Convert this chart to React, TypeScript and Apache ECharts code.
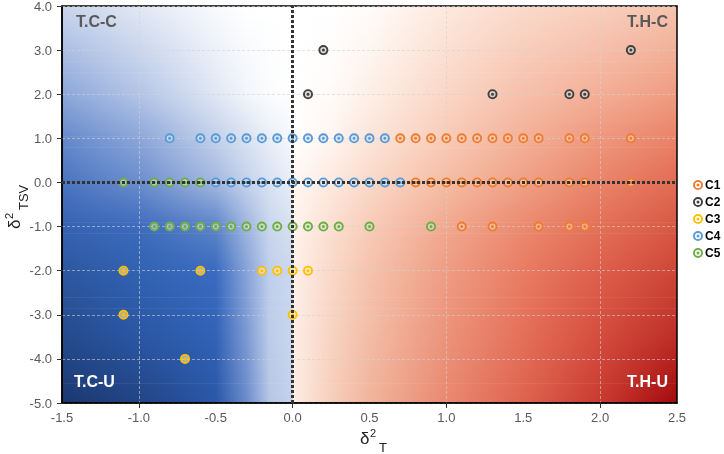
import React, { useEffect, useRef } from "react";
import * as echarts from "echarts";

// ---------- data ----------
const seriesNames = ["C1", "C2", "C3", "C4", "C5"];
const seriesColors = ["#ED7D31", "#404040", "#FFC000", "#5B9BD5", "#70AD47"];
const seriesTints = [
  "rgba(250,208,180,0.75)",
  "rgba(205,205,205,0.85)",
  "rgba(255,238,175,0.75)",
  "rgba(210,228,246,0.75)",
  "rgba(210,232,196,0.75)",
];

const c1Points: number[][] = [
  [0.7, 1], [0.8, 1], [0.9, 1], [1.0, 1], [1.1, 1], [1.2, 1], [1.3, 1], [1.4, 1], [1.5, 1], [1.6, 1], [1.8, 1], [1.9, 1], [2.2, 1],
  [0.8, 0], [0.9, 0], [1.0, 0], [1.1, 0], [1.2, 0], [1.3, 0], [1.4, 0], [1.5, 0], [1.6, 0], [1.8, 0], [1.9, 0], [2.2, 0],
  [1.1, -1], [1.3, -1], [1.6, -1], [1.8, -1], [1.9, -1],
];
const c2Points: number[][] = [
  [0.2, 3], [2.2, 3], [0.1, 2], [1.3, 2], [1.8, 2], [1.9, 2],
];
const c3Points: number[][] = [
  [-1.1, -2], [-0.6, -2], [-0.2, -2], [-0.1, -2], [0.0, -2], [0.1, -2],
  [-1.1, -3], [0.0, -3], [-0.7, -4],
];
const c4Points: number[][] = [
  [-0.8, 1], [-0.6, 1], [-0.5, 1], [-0.4, 1], [-0.3, 1], [-0.2, 1], [-0.1, 1], [0.0, 1], [0.1, 1], [0.2, 1], [0.3, 1], [0.4, 1], [0.5, 1], [0.6, 1],
  [-0.5, 0], [-0.4, 0], [-0.3, 0], [-0.2, 0], [-0.1, 0], [0.0, 0], [0.1, 0], [0.2, 0], [0.3, 0], [0.4, 0], [0.5, 0], [0.6, 0], [0.7, 0],
];
const c5Points: number[][] = [
  [-1.1, 0], [-0.9, 0], [-0.8, 0], [-0.7, 0], [-0.6, 0],
  [-0.9, -1], [-0.8, -1], [-0.7, -1], [-0.6, -1], [-0.5, -1], [-0.4, -1], [-0.3, -1], [-0.2, -1], [-0.1, -1], [0.0, -1], [0.1, -1], [0.2, -1], [0.3, -1], [0.5, -1], [0.9, -1],
];
const allPoints = [c1Points, c2Points, c3Points, c4Points, c5Points];

const xTickValues = [-1, 0, 1, 2];
const cornerLabels = ["T.C-C", "T.H-C", "T.C-U", "T.H-U"];

// background colour field (rows at y, stops at x)
const bgStopX = [-1.5, -1.0, -0.5, -0.3, -0.15, 0, 0, 0.25, 0.5, 1.0, 1.5, 2.0, 2.5];
const bgRowY = [4, 2, 1, 0, -1, -2, -3.5, -5];
const bgRowColors = [
  ["#c9d5ec", "#e2e8f4", "#f9fafd", "#ffffff", "#ffffff", "#ffffff", "#ffffff", "#ffffff", "#fffcfa", "#fde9df", "#fadacb", "#f8cfbe", "#f5c3ae"],
  ["#8ca7d9", "#b3c4e6", "#e0e7f4", "#f2f5fa", "#fbfcfe", "#ffffff", "#ffffff", "#fffbf9", "#fdefe7", "#fad6c6", "#f6c0ab", "#f3ae96", "#ef9b81"],
  ["#6589cb", "#8ba6d9", "#c2d0ea", "#d9e2f1", "#e9eef7", "#f6f8fc", "#ffffff", "#fef5f0", "#fce5da", "#f8cbb7", "#f3b098", "#ee977d", "#e98267"],
  ["#4a74c0", "#6a8dcd", "#a3b8e0", "#c3d1eb", "#d9e2f2", "#e9eef7", "#fff8f4", "#fde9df", "#fad9c9", "#f5bca4", "#efa086", "#e9836a", "#e26b53"],
  ["#3662b2", "#3e6bbd", "#5d84c8", "#9fb5df", "#c9d6ee", "#d8e1f1", "#fff3ed", "#fbdfd1", "#f8cbb8", "#f1a88f", "#eb8a70", "#e37056", "#d75843"],
  ["#2d579f", "#3262b2", "#3a6bc0", "#87a3d9", "#c0cfeb", "#ccd8ee", "#fdf0e9", "#f9d9c9", "#f5c3ae", "#ee9d83", "#e87c63", "#dd5f4b", "#ce4638"],
  ["#244a8c", "#2a56a4", "#3162b6", "#7b99d3", "#bccce9", "#c9d6ed", "#fdeee6", "#f8d3c2", "#f3bca6", "#ec927a", "#e46f59", "#d44c3d", "#bc2e27"],
  ["#1b3870", "#224483", "#2a57a8", "#6b8ccb", "#b6c7e5", "#c5d2eb", "#fdede3", "#f7cfbc", "#f1b49c", "#e98970", "#de634f", "#c83a30", "#a3090c"],
];

// ---------- helpers ----------
const X_MIN = -1.5, X_MAX = 2.5, Y_MIN = -5, Y_MAX = 4;
const RING_PATH =
  "path://M5 0A5 5 0 1 0 5 10A5 5 0 1 0 5 0ZM5 1.9A3.1 3.1 0 1 1 5 8.1A3.1 3.1 0 1 1 5 1.9ZM5 3.5A1.5 1.5 0 1 0 5 6.5A1.5 1.5 0 1 0 5 3.5Z";

function hexToRgb(h: string) {
  const n = parseInt(h.slice(1), 16);
  return [(n >> 16) & 255, (n >> 8) & 255, n & 255];
}
function mix(a: string, b: string, t: number) {
  const A = hexToRgb(a), B = hexToRgb(b);
  const c = A.map((v, i) => Math.round(v + (B[i] - v) * t));
  return `rgb(${c[0]},${c[1]},${c[2]})`;
}
function stopsAt(y: number) {
  let j = 0;
  while (j < bgRowY.length - 2 && y < bgRowY[j + 1]) j++;
  const t = Math.min(1, Math.max(0, (bgRowY[j] - y) / (bgRowY[j] - bgRowY[j + 1])));
  const span = X_MAX - X_MIN;
  return bgStopX.map((x, i) => {
    let off = (x - X_MIN) / span;
    if (i === 5) off -= 0.0006;
    if (i === 6) off += 0.0006;
    return { offset: off, color: mix(bgRowColors[j][i], bgRowColors[j + 1][i], t) };
  });
}

export default function App() {
  const ref = useRef<HTMLDivElement>(null);
  useEffect(() => {
    if (!ref.current) return;
    const chart = echarts.init(ref.current, undefined, { renderer: "svg" });
    const font = '"Liberation Sans", Arial, sans-serif';
    const gridLine = { show: true, lineStyle: { color: "rgba(210,210,210,0.6)", width: 1, type: [3, 2] as any } };

    const bgSeries: any = {
      type: "custom",
      coordinateSystem: "cartesian2d",
      silent: true,
      z: -1,
      clip: true,
      data: [[0, 0]],
      renderItem: (_p: any, api: any) => {
        const children: any[] = [];
        const step = 0.05;
        const n = Math.round((Y_MAX - Y_MIN) / step);
        for (let i = 0; i < n; i++) {
          const yt = Y_MAX - i * step;
          const yb = yt - step;
          const p1 = api.coord([X_MIN, yt]);
          const p2 = api.coord([X_MAX, yb]);
          children.push({
            type: "rect",
            shape: { x: p1[0], y: p1[1], width: p2[0] - p1[0], height: p2[1] - p1[1] + (i < n - 1 ? 0.7 : 0) },
            style: { fill: new echarts.graphic.LinearGradient(0, 0, 1, 0, stopsAt((yt + yb) / 2)) },
          });
        }
        return { type: "group", children };
      },
    };

    const mainSeries = seriesNames.map((name, i) => ({
      name,
      type: "scatter",
      data: allPoints[i],
      symbol: RING_PATH,
      symbolSize: 10,
      itemStyle: { color: seriesColors[i], opacity: 1 },
      z: 4,
    }));
    const underSeries = seriesNames.map((name, i) => ({
      name,
      type: "scatter",
      data: allPoints[i],
      symbol: "circle",
      symbolSize: 7,
      itemStyle: { color: seriesTints[i] },
      z: 3,
      silent: true,
    }));
    const refLines = {
      type: "scatter",
      data: [[0, 0]],
      symbolSize: 0,
      silent: true,
      z: 10,
      markLine: {
        silent: true,
        symbol: ["none", "none"],
        label: { show: false },
        lineStyle: { color: "#333333", width: 3, type: [3, 2] },
        data: [{ xAxis: 0 }, { yAxis: 0 }],
      },
    };

    const cornerStyle = (fill: string, align: string) => ({
      fill,
      font: `bold 16px ${font}`,
      textAlign: align,
      textVerticalAlign: "top",
    });

    chart.setOption({
      animation: false,
      textStyle: { fontFamily: font },
      grid: {
        left: 62, right: 47, top: 6, bottom: 51,
        show: true, borderColor: "#000", borderWidth: 1.5, backgroundColor: "transparent",
        outerBoundsMode: "none",
      },
      legend: {
        orient: "vertical",
        left: 693,
        top: 178,
        padding: 0,
        itemWidth: 10,
        itemHeight: 10,
        itemGap: 3,
        textStyle: { fontWeight: "bold", fontSize: 12, color: "#000", lineHeight: 14, padding: [0, 0, 0, -3] },
        data: seriesNames.map((n) => ({ name: n, icon: RING_PATH })),
        selectedMode: false,
      },
      xAxis: {
        type: "value",
        min: X_MIN, max: X_MAX, interval: 0.5,
        axisLine: { show: true, onZero: false, lineStyle: { color: "#000", width: 1.5 } },
        axisTick: { show: true, customValues: xTickValues, length: 5, lineStyle: { color: "#333" } },
        axisLabel: { color: "#595959", fontSize: 13, margin: 8, formatter: (v: number) => v.toFixed(1) },
        splitLine: gridLine,
      },
      yAxis: {
        type: "value",
        min: Y_MIN, max: Y_MAX, interval: 1,
        axisLine: { show: true, onZero: false, lineStyle: { color: "#000", width: 1.5 } },
        axisTick: { show: true, length: 5, lineStyle: { color: "#333" } },
        axisLabel: { color: "#595959", fontSize: 13, margin: 10, formatter: (v: number) => v.toFixed(1) },
        splitLine: gridLine,
      },
      graphic: [
        { type: "text", x: 76, y: 13, silent: true, style: { text: cornerLabels[0], ...cornerStyle("#595959", "left") } },
        { type: "text", x: 668, y: 13, silent: true, style: { text: cornerLabels[1], ...cornerStyle("#595959", "right") } },
        { type: "text", x: 74, y: 373, silent: true, style: { text: cornerLabels[2], ...cornerStyle("#ffffff", "left") } },
        { type: "text", x: 668, y: 373, silent: true, style: { text: cornerLabels[3], ...cornerStyle("#ffffff", "right") } },
        {
          type: "group", x: 360, y: 438, silent: true,
          children: [
            { type: "text", x: 0, y: 0, style: { text: "δ", font: `17px ${font}`, fill: "#222", textVerticalAlign: "middle" } },
            { type: "text", x: 10, y: -5, style: { text: "2", font: `11px ${font}`, fill: "#222", textVerticalAlign: "middle" } },
            { type: "text", x: 19, y: 9, style: { text: "T", font: `13px ${font}`, fill: "#222", textVerticalAlign: "middle" } },
          ],
        },
        {
          type: "group", x: 14, y: 229, rotation: Math.PI / 2, silent: true,
          children: [
            { type: "text", x: 0, y: 0, style: { text: "δ", font: `17px ${font}`, fill: "#222", textVerticalAlign: "middle" } },
            { type: "text", x: 10, y: -5, style: { text: "2", font: `11px ${font}`, fill: "#222", textVerticalAlign: "middle" } },
            { type: "text", x: 19, y: 9, style: { text: "TSV", font: `13px ${font}`, fill: "#222", textVerticalAlign: "middle" } },
          ],
        },
      ],
      series: [bgSeries, ...mainSeries, ...underSeries, refLines],
    });
    return () => chart.dispose();
  }, []);
  return <div ref={ref} style={{ position: "fixed", left: 0, top: 0, width: 724, height: 454 }} />;
}
